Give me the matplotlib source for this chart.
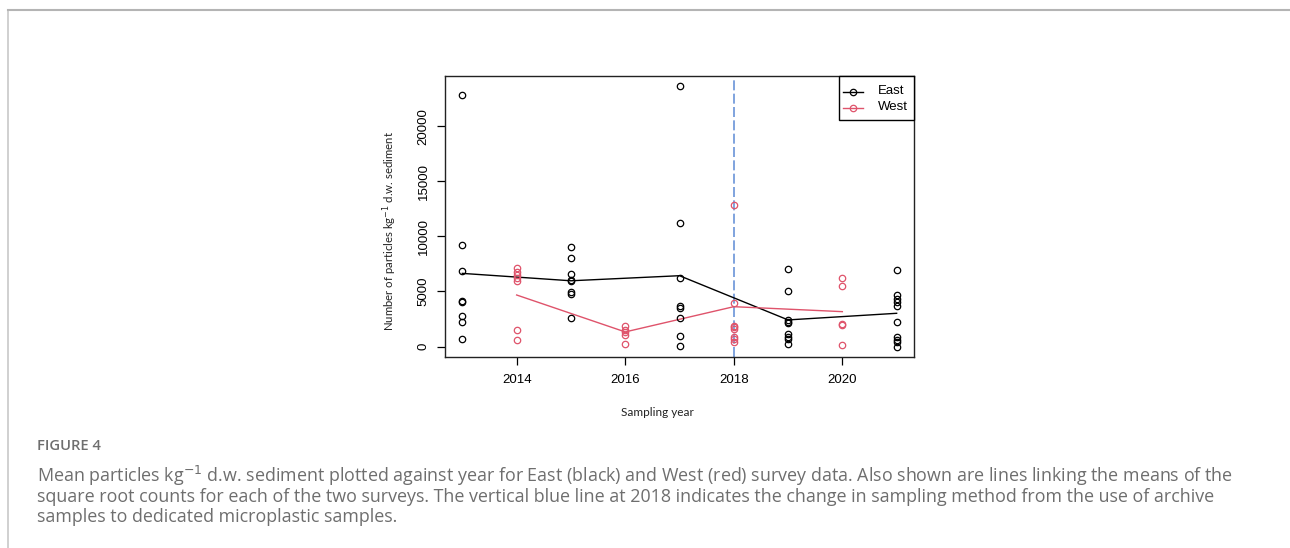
import matplotlib
matplotlib.use("Agg")
import matplotlib.pyplot as plt
from matplotlib.lines import Line2D
from matplotlib.patches import Rectangle

# ---- data ----
east_years = [2013, 2015, 2017, 2019, 2021]
east_values = [
    [22840, 9200, 6880, 4140, 4040, 2750, 2260, 700],
    [9020, 8000, 6580, 6040, 5920, 4980, 4770, 2570],
    [23600, 11250, 6200, 3650, 3500, 2550, 950, 30],
    [7000, 5010, 2420, 2260, 2140, 1120, 900, 670, 215],
    [6940, 4700, 4350, 4000, 3700, 2200, 850, 600, 400, 0],
]
east_means = [6640, 5970, 6430, 2420, 3020]

west_years = [2014, 2016, 2018, 2020]
west_values = [
    [7100, 6800, 6500, 6250, 5970, 1500, 580],
    [1850, 1550, 1300, 1050, 200],
    [12800, 3980, 1900, 1780, 1630, 900, 650, 400],
    [6220, 5470, 2050, 1930, 125],
]
west_means = [4680, 1330, 3620, 3170]

change_year = 2018
x_ticks = [2014, 2016, 2018, 2020]
y_ticks = [0, 5000, 10000, 15000, 20000]
legend_labels = ["East", "West"]

EAST_C = "black"
WEST_C = "#DF536B"
BLUE_C = "#6a93d8"
CAP_C = "#6e6e6e"

W, H = 1290, 548
fig = plt.figure(figsize=(W / 100, H / 100), dpi=100)
fig.patch.set_facecolor("white")


def fx(px):
    return px / W


def fy(py):
    return 1 - py / H


ax = fig.add_axes([fx(445), fy(357), (914 - 445) / W, (357 - 76) / H])

# vertical line
ax.axvline(change_year, color=BLUE_C, lw=1.2, ls=(0, (6, 2)), zorder=1)

# points
mk = dict(marker="o", ms=4.6, mfc="none", mew=0.9, ls="none")
for yr, vals in zip(east_years, east_values):
    ax.plot([yr] * len(vals), vals, mec=EAST_C, **mk, zorder=3)
for yr, vals in zip(west_years, west_values):
    ax.plot([yr] * len(vals), vals, mec=WEST_C, **mk, zorder=3)

# mean lines
ax.plot(east_years, east_means, color=EAST_C, lw=1.0, zorder=2)
ax.plot(west_years, west_means, color=WEST_C, lw=1.0, zorder=2)

ax.set_xlim(2012.68, 2021.32)
ax.set_ylim(-944, 24544)
ax.set_xticks(x_ticks)
ax.set_yticks(y_ticks)
ax.set_xticklabels([str(t) for t in x_ticks], fontfamily="Liberation Sans", fontsize=9.5)
ax.set_yticklabels([str(t) for t in y_ticks], fontfamily="Liberation Sans", fontsize=9.5,
                   rotation=90, va="center")
ax.tick_params(axis="both", direction="out", length=6, width=0.9, color="black")
ax.tick_params(axis="x", pad=6)
ax.tick_params(axis="y", pad=5)
for s in ax.spines.values():
    s.set_linewidth(1.0)
    s.set_color("#222222")

# legend (R style box, drawn in figure pixel positions)
fig.add_artist(Rectangle((fx(839), fy(120)), (914 - 839) / W, (120 - 76) / H,
                         transform=fig.transFigure, fill=True, facecolor="white",
                         edgecolor="black", lw=1.0, zorder=5))
for lab, col, py in zip(legend_labels, [EAST_C, WEST_C], [91.5, 107.5]):
    fig.add_artist(Line2D([fx(843), fx(863)], [fy(py), fy(py)], transform=fig.transFigure,
                          color=col, lw=1.0, zorder=6))
    fig.add_artist(Line2D([fx(853)], [fy(py)], transform=fig.transFigure, color=col,
                          marker="o", mfc="none", mec=col, ms=4.6, mew=0.9, zorder=6))
    fig.text(fx(877.5), fy(py), lab, ha="left", va="center", fontfamily="Liberation Sans",
             fontsize=9.5, zorder=7)

# axis labels (separately placed like the reference)
fig.text(fx(390), fy(231), "Number of particles kg$^{-1}$ d.w. sediment",
         rotation=90, ha="center", va="center", fontfamily="Lato", fontsize=8.2,
         color="#222222")
fig.text(fx(657), fy(412), "Sampling year", ha="center", va="center",
         fontfamily="Lato", fontsize=8.5, color="#222222")

# outer frame lines
fig.add_artist(Line2D([fx(7.5), fx(7.5)], [0, fy(9.5)], transform=fig.transFigure,
                      color="#c8c8c8", lw=1.2))
fig.add_artist(Line2D([fx(7.5), 1], [fy(9.5), fy(9.5)], transform=fig.transFigure,
                      color="#b4b4b4", lw=1.5))

# caption
fig.text(fx(37), fy(446), "FIGURE 4", ha="left", va="center",
         fontfamily="Open Sans", fontweight="semibold", fontsize=10.6, color=CAP_C)
cap_lines = [
    "Mean particles kg$^{-1}$ d.w. sediment plotted against year for East (black) and West (red) survey data. Also shown are lines linking the means of the",
    "square root counts for each of the two surveys. The vertical blue line at 2018 indicates the change in sampling method from the use of archive",
    "samples to dedicated microplastic samples.",
]
texts = []
for i, line in enumerate(cap_lines):
    t = fig.text(fx(37), fy(475.5 + 21 * i), line, ha="left", va="center",
                 fontfamily="Open Sans", fontsize=12, color=CAP_C)
    texts.append(t)

# fit the caption width to the reference (first line ~1195 px wide)
fig.canvas.draw()
r = fig.canvas.get_renderer()
w0 = texts[0].get_window_extent(r).width
fs = 12 * 1195 / w0
for t in texts:
    t.set_fontsize(fs)

fig.savefig("out.png", dpi=100)
